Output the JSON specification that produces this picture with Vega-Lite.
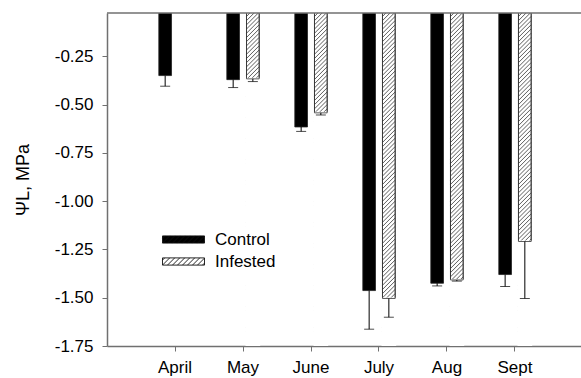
{
  "$schema": "https://vega.github.io/schema/vega-lite/v6.json",
  "width": 474,
  "height": 333,
  "autosize": {"type": "none"},
  "padding": {"left": 107, "top": 13, "right": 0, "bottom": 32},
  "background": "white",
  "config": {
    "font": "Liberation Sans",
    "view": {"stroke": null},
    "axis": {"zindex": 1}
  },
  "data": {
    "values": [
      {"month": "April", "group": "Control", "value": -0.35, "lower": -0.405},
      {"month": "May", "group": "Control", "value": -0.371, "lower": -0.412},
      {"month": "May", "group": "Infested", "value": -0.367, "lower": -0.381},
      {"month": "June", "group": "Control", "value": -0.616, "lower": -0.639},
      {"month": "June", "group": "Infested", "value": -0.543, "lower": -0.554},
      {"month": "July", "group": "Control", "value": -1.463, "lower": -1.663},
      {"month": "July", "group": "Infested", "value": -1.504, "lower": -1.601},
      {"month": "Aug", "group": "Control", "value": -1.425, "lower": -1.439},
      {"month": "Aug", "group": "Infested", "value": -1.408, "lower": -1.414},
      {"month": "Sept", "group": "Control", "value": -1.38, "lower": -1.442},
      {"month": "Sept", "group": "Infested", "value": -1.209, "lower": -1.504}
    ]
  },
  "layer": [
    {
      "encoding": {
        "x": {
          "field": "month", "type": "nominal",
          "sort": ["April", "May", "June", "July", "Aug", "Sept"],
          "scale": {"paddingInner": 0.5235, "paddingOuter": 0.762, "range": [0, 476]},
          "axis": {
            "title": null, "labelAngle": 0, "labelFontSize": 17, "labelColor": "black",
            "tickSize": 5, "tickColor": "#707070", "domainColor": "#707070", "domainWidth": 1.5,
            "labelPadding": 8, "grid": false
          }
        },
        "xOffset": {
          "field": "group", "type": "nominal",
          "scale": {"domain": ["Control", "Infested"], "paddingInner": 0.355, "paddingOuter": 0}
        },
        "y": {
          "field": "value", "type": "quantitative",
          "scale": {"domain": [-1.75, -0.026], "nice": false, "zero": false},
          "axis": {
            "values": [-1.75, -1.5, -1.25, -1.0, -0.75, -0.5, -0.25],
            "labelExpr": "replace(format(datum.value, '.2f'), '\u2212', '-')",
            "labelFontSize": 17, "labelColor": "black",
            "tickSize": 5, "tickColor": "#707070", "domainColor": "#707070", "domainWidth": 1.5,
            "labelPadding": 9, "grid": false,
            "title": "ΨL, MPa", "titleFontSize": 18, "titleFontWeight": "normal",
            "titleColor": "black", "titlePadding": 22
          }
        }
      },
      "layer": [
        {
          "mark": {"type": "bar", "stroke": "#222222", "strokeWidth": 0.8, "clip": true},
          "encoding": {
            "y2": {"datum": 0},
            "fill": {
              "field": "group", "type": "nominal",
              "scale": {"domain": ["Control", "Infested"], "range": ["#000000", "#ffffff"]},
              "legend": {
                "title": null, "orient": "none", "legendX": 68, "legendY": 218,
                "padding": 0, "labelFontSize": 17, "labelColor": "black", "labelOffset": 23,
                "rowPadding": 4, "symbolSize": 64, "symbolStrokeColor": "#111111", "symbolStrokeWidth": 0.9,
                "symbolType": "M-5.25,-0.9H5.25V0.9H-5.25Z M-5.25,-0.35L-4.7,-0.9 M-5.25,0.9L-3.45,-0.9 M-4,0.9L-2.2,-0.9 M-2.75,0.9L-0.95,-0.9 M-1.5,0.9L0.3,-0.9 M-0.25,0.9L1.55,-0.9 M1,0.9L2.8,-0.9 M2.25,0.9L4.05,-0.9 M3.5,0.9L5.25,-0.85 M4.75,0.9L5.25,0.4"
              }
            }
          }
        },
        {
          "transform": [{"filter": "datum.group === 'Infested'"}],
          "mark": {
            "type": "point", "filled": false, "size": 4, "opacity": 1,
            "stroke": "#333333", "strokeWidth": 0.8, "clip": true,
            "shape": "M-6.3,0l12.6,-12.6m-12.6,16.8l12.6,-12.6m-12.6,16.8l12.6,-12.6m-12.6,16.8l12.6,-12.6m-12.6,16.8l12.6,-12.6m-12.6,16.8l12.6,-12.6m-12.6,16.8l12.6,-12.6m-12.6,16.8l12.6,-12.6m-12.6,16.8l12.6,-12.6m-12.6,16.8l12.6,-12.6m-12.6,16.8l12.6,-12.6m-12.6,16.8l12.6,-12.6m-12.6,16.8l12.6,-12.6m-12.6,16.8l12.6,-12.6m-12.6,16.8l12.6,-12.6m-12.6,16.8l12.6,-12.6m-12.6,16.8l12.6,-12.6m-12.6,16.8l12.6,-12.6m-12.6,16.8l12.6,-12.6m-12.6,16.8l12.6,-12.6m-12.6,16.8l12.6,-12.6m-12.6,16.8l12.6,-12.6m-12.6,16.8l12.6,-12.6m-12.6,16.8l12.6,-12.6m-12.6,16.8l12.6,-12.6m-12.6,16.8l12.6,-12.6m-12.6,16.8l12.6,-12.6m-12.6,16.8l12.6,-12.6m-12.6,16.8l12.6,-12.6m-12.6,16.8l12.6,-12.6m-12.6,16.8l12.6,-12.6m-12.6,16.8l12.6,-12.6m-12.6,16.8l12.6,-12.6m-12.6,16.8l12.6,-12.6m-12.6,16.8l12.6,-12.6m-12.6,16.8l12.6,-12.6m-12.6,16.8l12.6,-12.6m-12.6,16.8l12.6,-12.6m-12.6,16.8l12.6,-12.6m-12.6,16.8l12.6,-12.6m-12.6,16.8l12.6,-12.6m-12.6,16.8l12.6,-12.6m-12.6,16.8l12.6,-12.6m-12.6,16.8l12.6,-12.6m-12.6,16.8l12.6,-12.6m-12.6,16.8l12.6,-12.6m-12.6,16.8l12.6,-12.6m-12.6,16.8l12.6,-12.6m-12.6,16.8l12.6,-12.6m-12.6,16.8l12.6,-12.6m-12.6,16.8l12.6,-12.6m-12.6,16.8l12.6,-12.6m-12.6,16.8l12.6,-12.6m-12.6,16.8l12.6,-12.6m-12.6,16.8l12.6,-12.6m-12.6,16.8l12.6,-12.6m-12.6,16.8l12.6,-12.6m-12.6,16.8l12.6,-12.6m-12.6,16.8l12.6,-12.6m-12.6,16.8l12.6,-12.6m-12.6,16.8l12.6,-12.6m-12.6,16.8l12.6,-12.6m-12.6,16.8l12.6,-12.6m-12.6,16.8l12.6,-12.6m-12.6,16.8l12.6,-12.6m-12.6,16.8l12.6,-12.6m-12.6,16.8l12.6,-12.6m-12.6,16.8l12.6,-12.6m-12.6,16.8l12.6,-12.6m-12.6,16.8l12.6,-12.6m-12.6,16.8l12.6,-12.6m-12.6,16.8l12.6,-12.6m-12.6,16.8l12.6,-12.6m-12.6,16.8l12.6,-12.6m-12.6,16.8l12.6,-12.6m-12.6,16.8l12.6,-12.6m-12.6,16.8l12.6,-12.6m-12.6,16.8l12.6,-12.6m-12.6,16.8l12.6,-12.6m-12.6,16.8l12.6,-12.6m-12.6,16.8l12.6,-12.6m-12.6,16.8l12.6,-12.6m-12.6,16.8l12.6,-12.6m-12.6,16.8l12.6,-12.6m-12.6,16.8l12.6,-12.6"
          },
          "encoding": {"y": {"datum": 0}}
        },
        {
          "transform": [{"filter": "datum.group === 'Infested'"}],
          "mark": {"type": "bar", "fill": "#ffffff", "stroke": "#ffffff", "strokeWidth": 2, "clip": true},
          "encoding": {"y2": {"datum": -1.75}}
        },
        {
          "transform": [{"filter": "datum.group === 'Infested'"}],
          "mark": {"type": "bar", "fillOpacity": 0, "stroke": "#333333", "strokeWidth": 0.8, "clip": true},
          "encoding": {"y2": {"datum": 0}}
        },
        {
          "mark": {"type": "rule", "color": "#000000", "strokeWidth": 1},
          "encoding": {"y2": {"field": "lower"}}
        },
        {
          "mark": {"type": "tick", "color": "#000000", "size": 10, "thickness": 1},
          "encoding": {"y": {"field": "lower", "type": "quantitative"}}
        }
      ]
    },
    {
      "data": {"values": [{}]},
      "mark": {"type": "rule", "color": "#707070", "strokeWidth": 1.5},
      "encoding": {"y": {"datum": -0.026}}
    }
  ]
}
